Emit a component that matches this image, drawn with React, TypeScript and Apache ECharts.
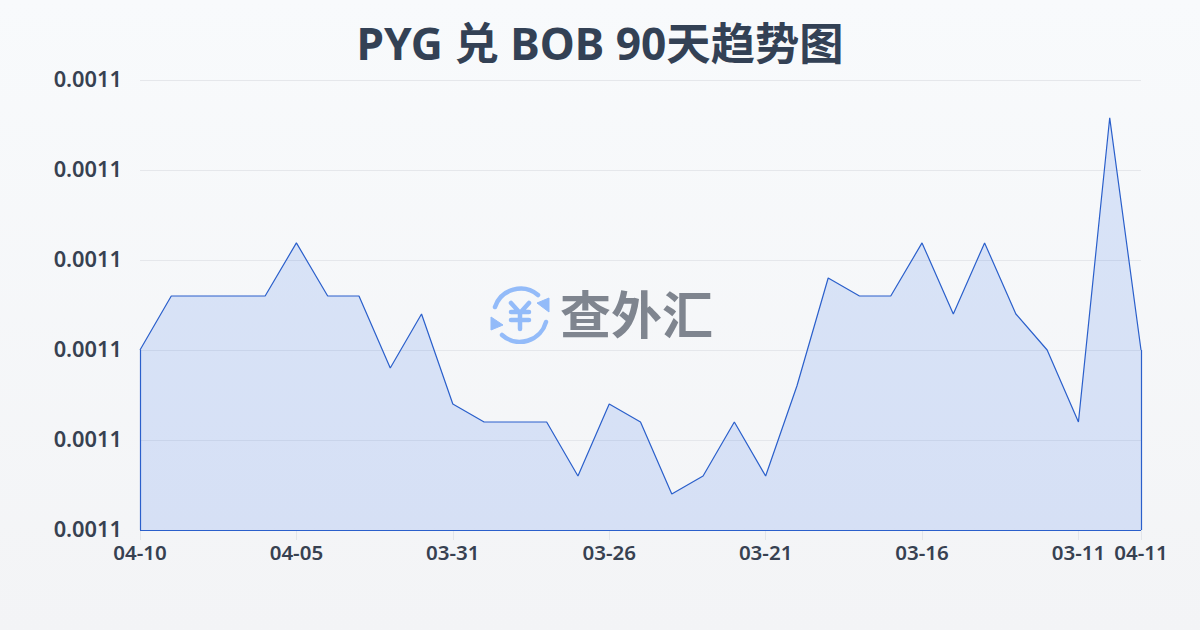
import React, { useEffect, useRef } from "react";
import * as echarts from "echarts";

const FONT = '"Noto Sans", "Noto Sans CJK SC", sans-serif';
const titleText = "PYG 兑 BOB 90天趋势图";
const watermarkText = "查外汇";
const categories = [
  "04-10","04-09","04-08","04-07","04-06","04-05","04-04","04-03","04-02","04-01","03-31",
  "03-30","03-29","03-28","03-27","03-26","03-25","03-24","03-23","03-22","03-21",
  "03-20","03-19","03-18","03-17","03-16","03-15","03-14","03-13","03-12","03-11","03-10","04-11",
];
const rates = [
  0.0011,0.001106,0.001106,0.001106,0.001106,0.0011119,0.001106,0.001106,0.001098,0.001104,0.001094,
  0.001092,0.001092,0.001092,0.001086,0.001094,0.001092,0.001084,0.001086,0.001092,0.001086,
  0.001096,0.001108,0.001106,0.001106,0.0011119,0.001104,0.0011119,0.001104,0.0011,0.001092,0.0011258,0.0011,
];
const yMin = 0.00108;
const yMax = 0.00113;
const yStep = 0.00001;
const LINE = "#2a5fcb";
const TEXT = "#374151";

echarts.graphic.registerShape(
  "logoStrokes",
  echarts.graphic.extendPath(
    "M5 21 A27 27 0 0 1 48 9 M56 36 A27 27 0 0 1 12 49 M21 17 L30 27 L39 17 M30 27 L30 43 M21 26 L39 26 M21 34 L39 34",
    {}
  )
);
echarts.graphic.registerShape(
  "logoArrows",
  echarts.graphic.extendPath("M59 12 L59 26 L47 17 Z M1 31 L1 44 L13 39 Z", {})
);

export default function App() {
  const ref = useRef<HTMLDivElement>(null);
  useEffect(() => {
    const chart = echarts.init(ref.current!, null, { renderer: "svg" });
    const last = categories.length - 1;
    const shown = (i: number) => i % 5 === 0 || i === last;
    chart.setOption({
      animation: false,
      backgroundColor: "transparent",
      title: {
        text: titleText,
        left: "center",
        top: 16,
        textStyle: { fontFamily: FONT, fontSize: 44.3, fontWeight: 700, color: "#334155" },
      },
      grid: { left: 140, right: 59, top: 80, bottom: 100 },
      xAxis: {
        type: "category",
        boundaryGap: false,
        data: categories,
        axisLine: { show: false },
        axisTick: { show: true, length: 10, interval: (i: number) => shown(i), lineStyle: { color: "#e2e5ea" } },
        axisLabel: {
          interval: (i: number) => shown(i),
          hideOverlap: false,
          margin: 12,
          fontFamily: FONT,
          fontSize: 20.5,
          fontWeight: 600,
          color: TEXT,
        },
      },
      yAxis: {
        type: "value",
        min: yMin,
        max: yMax,
        interval: yStep,
        axisLine: { show: false },
        axisTick: { show: false },
        splitLine: { lineStyle: { color: "#e5e7eb", width: 1 } },
        axisLabel: {
          margin: 18,
          verticalAlign: "bottom",
          lineHeight: 4,
          formatter: (v: number) => v.toFixed(4),
          fontFamily: FONT,
          fontSize: 21.8,
          fontWeight: 600,
          color: TEXT,
        },
      },
      series: [
        {
          type: "line",
          data: rates,
          symbol: "none",
          smooth: false,
          lineStyle: { color: LINE, width: 1.2 },
          areaStyle: { color: "rgba(37,99,235,0.14)", opacity: 1, origin: "start" },
          markLine: {
            silent: true,
            symbol: "none",
            label: { show: false },
            lineStyle: { color: LINE, width: 1.2, type: "solid" },
            data: [
              [{ coord: [categories[0], yMin] }, { coord: [categories[0], rates[0]] }],
              [{ coord: [categories[0], yMin] }, { coord: [categories[last], yMin] }],
              [{ coord: [categories[last], yMin] }, { coord: [categories[last], rates[last]] }],
            ],
          },
        },
      ],
      graphic: [
        {
          type: "logoStrokes",
          x: 490,
          y: 286,
          z: 100,
          style: { fill: "none", stroke: "#93bbf9", lineWidth: 4.5, lineCap: "round" },
        },
        {
          type: "logoArrows",
          x: 490,
          y: 286,
          z: 100,
          style: { fill: "#93bbf9", stroke: "#93bbf9", lineWidth: 1 },
        },
        {
          type: "text",
          x: 560,
          y: 286,
          z: 100,
          style: {
            text: watermarkText,
            fontFamily: '"Noto Sans CJK SC", sans-serif',
            fontSize: 51,
            fontWeight: 700,
            fill: "#7f858f",
          },
        },
      ],
    });
    return () => chart.dispose();
  }, []);
  return (
    <div
      style={{
        position: "fixed",
        left: 0,
        top: 0,
        width: 1200,
        height: 630,
        background: "linear-gradient(180deg, #f8fafc 0%, #f3f4f6 100%)",
      }}
    >
      <div ref={ref} style={{ width: 1200, height: 630 }} />
    </div>
  );
}
